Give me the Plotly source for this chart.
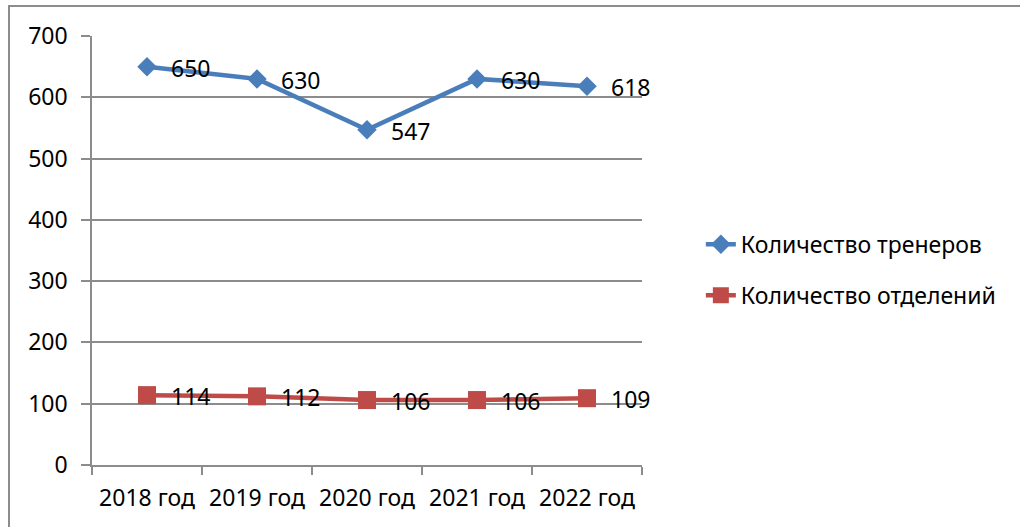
import plotly.graph_objects as go

years = ["2018 год", "2019 год", "2020 год", "2021 год", "2022 год"]
trainers = [650, 630, 547, 630, 618]
departments = [114, 112, 106, 106, 109]
y_ticks = [0, 100, 200, 300, 400, 500, 600, 700]

FONT = "Noto Sans"
BLUE = "#4A7EBB"
RED = "#BE4B48"
GRID = "#8C8C8C"
FS = 23

fig = go.Figure()

fig.add_trace(go.Scatter(
    x=years, y=trainers, mode="lines+markers", name="Количество тренеров",
    line=dict(color=BLUE, width=4.5),
    marker=dict(symbol="diamond", size=15, color=BLUE),
    legendgroup="a",
))
fig.add_trace(go.Scatter(
    x=years, y=departments, mode="lines+markers", name="Количество отделений",
    line=dict(color=RED, width=4.5),
    marker=dict(symbol="square", size=18, color=RED),
    legendgroup="b",
))

# data labels to the right of each point
annotations = []
for series in (trainers, departments):
    for x, v in zip(years, series):
        annotations.append(dict(
            x=x, y=v, text=str(v), showarrow=False,
            xanchor="left", yanchor="middle", xshift=22, yshift=-1,
            font=dict(family=FONT, size=FS, color="black"),
        ))

fig.update_layout(
    width=1020, height=527,
    margin=dict(l=92, r=378, t=36, b=62),
    paper_bgcolor="white", plot_bgcolor="white",
    font=dict(family=FONT, size=FS, color="black"),
    showlegend=True,
    legend=dict(
        x=1.107, y=0.455, xanchor="left", yanchor="middle",
        font=dict(family=FONT, size=FS, color="black"),
        tracegroupgap=18, bgcolor="rgba(0,0,0,0)",
    ),
    annotations=annotations,
    shapes=[dict(
        type="rect", xref="paper", yref="paper",
        x0=(9 - 92) / 550, x1=(1040 - 92) / 550,
        y0=(465 - 560) / 429, y1=(465 - 6) / 429,
        line=dict(color="#8C8C8C", width=2), fillcolor="rgba(0,0,0,0)",
        layer="below",
    )],
)

fig.update_xaxes(
    type="category", categoryorder="array", categoryarray=years,
    range=[-0.5, 4.5], tickson="boundaries",
    ticks="outside", ticklen=8, tickcolor=GRID, tickwidth=1.5,
    showline=True, linecolor=GRID, linewidth=1.5,
    showgrid=False, zeroline=False,
    tickfont=dict(family=FONT, size=FS), ticklabelstandoff=12,
)
fig.update_yaxes(
    range=[0, 700], tickvals=y_ticks,
    ticks="outside", ticklen=9, tickcolor=GRID, tickwidth=1.5,
    showline=True, linecolor=GRID, linewidth=1.5,
    showgrid=True, gridcolor=GRID, gridwidth=1.5, zeroline=False,
    tickfont=dict(family=FONT, size=FS), ticklabelstandoff=9,
)

# drop the page's default body margin so the chart sits at the window corner
fig.write_html("out.html", config={"displayModeBar": False},
               post_script="document.body.style.margin='0';")
